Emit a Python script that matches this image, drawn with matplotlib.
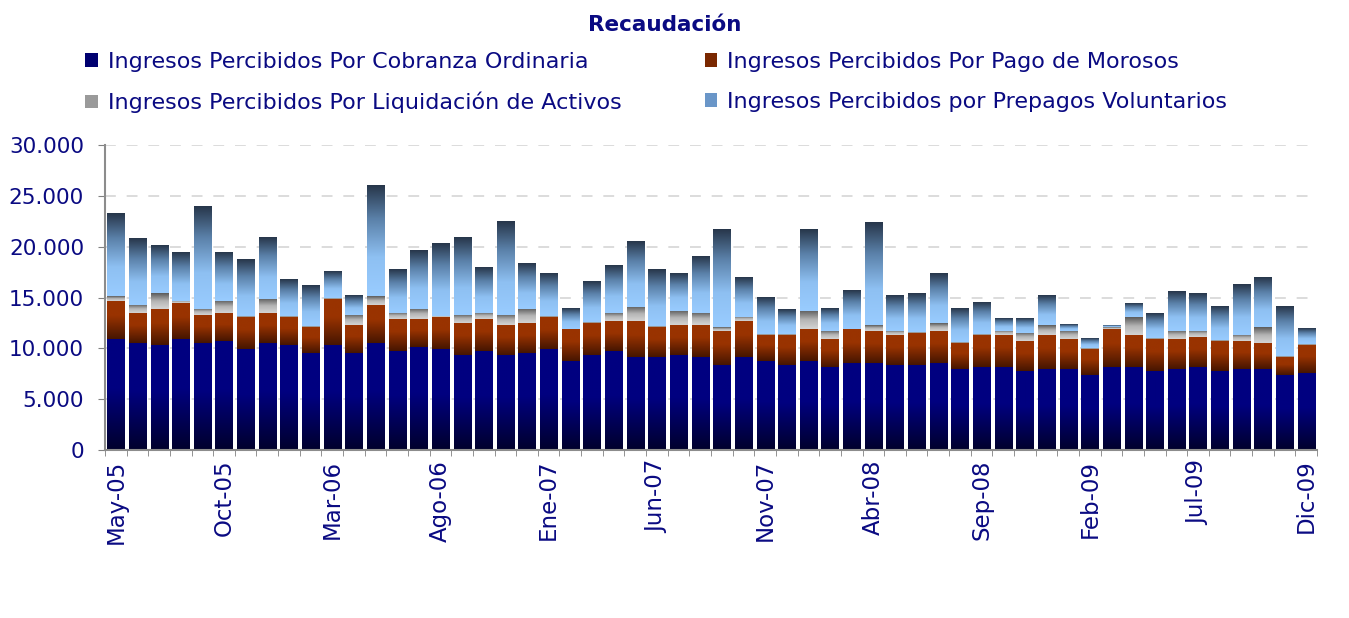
import numpy as np
import matplotlib
matplotlib.use('Agg')
import matplotlib.pyplot as plt
from matplotlib.colors import LinearSegmentedColormap
from matplotlib.patches import Patch
from matplotlib.ticker import FuncFormatter

# meses May-05 .. Dic-09
abrev = ['Ene', 'Feb', 'Mar', 'Abr', 'May', 'Jun', 'Jul', 'Ago', 'Sep', 'Oct', 'Nov', 'Dic']
meses = [f'{m}-{a:02d}' for a in range(5, 10) for i, m in enumerate(abrev) if not (a == 5 and i < 4)]

cobranza = [10950, 10550, 10350, 10950, 10550, 10750, 9950, 10550, 10350, 9550,
            10350, 9550, 10550, 9750, 10150, 9950, 9350, 9750, 9350, 9550,
            9950, 8750, 9350, 9750, 9150, 9150, 9350, 9150, 8400, 9150,
            8750, 8400, 8750, 8200, 8600, 8600, 8400, 8400, 8600, 8000,
            8200, 8200, 7800, 8000, 8000, 7400, 8200, 8200, 7800, 8000,
            8200, 7800, 8000, 8000, 7400, 7600]
morosos = [3750, 2950, 3550, 3550, 2750, 2750, 3150, 2950, 2750, 2550,
           4550, 2750, 3750, 3150, 2750, 3150, 3150, 3150, 2950, 2950,
           3150, 3150, 3150, 2950, 3550, 2950, 2950, 3150, 3350, 3550,
           2600, 2950, 3150, 2750, 3300, 3150, 2950, 3150, 3150, 2550,
           3150, 3150, 2950, 3350, 2950, 2550, 3750, 3150, 3150, 2950,
           2950, 2950, 2750, 2550, 1750, 2750]
liquidacion = [400, 800, 1550, 200, 600, 1200, 50, 1400, 50, 50,
               50, 1000, 800, 600, 1000, 100, 800, 600, 1000, 1400,
               50, 50, 50, 800, 1400, 50, 1400, 1200, 350, 400,
               50, 50, 1800, 800, 50, 550, 400, 50, 750, 50,
               50, 400, 800, 950, 800, 50, 150, 1750, 50, 800,
               600, 50, 600, 1550, 50, 50]
prepagos = [8150, 6500, 4650, 4800, 10050, 4800, 5600, 6000, 3600, 4000,
            2600, 1900, 10850, 4250, 5800, 7100, 7600, 4450, 9200, 4450,
            4200, 2050, 4000, 4650, 6400, 5600, 3650, 5600, 9600, 3850,
            3600, 2400, 8000, 2250, 3800, 10100, 3450, 3800, 4850, 3250,
            3050, 1250, 1450, 2900, 650, 900, 150, 1300, 2450, 3850,
            3650, 3250, 5000, 4850, 4850, 1500]

series = [
    ('Ingresos Percibidos Por Cobranza Ordinaria', cobranza,
     [(0, '#00002c'), (0.55, '#000080'), (1, '#000080')], '#000070'),
    ('Ingresos Percibidos Por Pago de Morosos', morosos,
     [(0, '#461500'), (0.6, '#993300'), (1, '#993300')], '#7a2800'),
    ('Ingresos Percibidos Por Liquidación de Activos', liquidacion,
     [(0, '#d4d4d4'), (0.5, '#b4b4b4'), (1, '#5a5a5a')], '#9a9a9a'),
    ('Ingresos Percibidos por Prepagos Voluntarios', prepagos,
     [(0, '#99ccff'), (0.35, '#8ec0f2'), (0.7, '#5a80a8'), (1, '#27364a')], '#6a96c8'),
]

navy = '#0a0a82'
plt.rcParams['font.family'] = ['DejaVu Sans']

fig = plt.figure(figsize=(13.49, 6.18), dpi=100)
ax = fig.add_axes([0.0778, 0.2718, 0.8985, 0.4936])

x = np.arange(len(meses))
grad = np.linspace(0, 1, 256).reshape(-1, 1)
bottom = np.zeros(len(meses))
handles = []
for nombre, vals, stops, mid in series:
    vals = np.array(vals, dtype=float)
    cmap = LinearSegmentedColormap.from_list(nombre, stops)
    bars = ax.bar(x, vals, bottom=bottom, width=0.79, facecolor='none', edgecolor='none', zorder=2)
    for p in bars:
        h = p.get_height()
        if h <= 0:
            continue
        x0, y0, w = p.get_x(), p.get_y(), p.get_width()
        ax.imshow(grad, extent=[x0, x0 + w, y0, y0 + h], origin='lower', aspect='auto',
                  cmap=cmap, interpolation='bilinear', zorder=2)
    bottom += vals
    handles.append(Patch(facecolor=mid, edgecolor='none', label=nombre))

ax.set_xlim(-0.5, len(meses) - 0.5)
ax.set_ylim(0, 30000)
ax.set_yticks(range(0, 30001, 5000))
ax.yaxis.set_major_formatter(FuncFormatter(lambda v, _: f'{int(v):,}'.replace(',', '.')))
ax.set_xticks(x[::5])
ax.set_xticklabels(meses[::5], rotation=90)
ax.set_xticks(np.arange(-0.5, len(meses), 1), minor=True)
ax.tick_params(axis='x', which='major', length=0, pad=7, labelsize=16.5, labelcolor=navy)
ax.tick_params(axis='x', which='minor', length=4, color='#808080', direction='out')
ax.tick_params(axis='y', length=5, color='#808080', labelsize=15.5, labelcolor=navy, pad=10)

ax.set_axisbelow(True)
ax.yaxis.grid(True, linestyle=(0, (6, 6)), color='#d9d9d9', linewidth=1.3)
for s in ['top', 'right']:
    ax.spines[s].set_visible(False)
ax.spines['left'].set_color('#8c8c8c')
ax.spines['left'].set_linewidth(1.5)
ax.spines['bottom'].set_color('#8c8c8c')
ax.spines['bottom'].set_linewidth(1.5)

fig.text(0.493, 0.959, 'Recaudación', ha='center', va='center', fontsize=15.5,
         fontweight='bold', color=navy)

orden = [handles[0], handles[2], handles[1], handles[3]]
fig.legend(handles=orden, labels=[h.get_label() for h in orden], ncols=2,
           loc='upper left', bbox_to_anchor=(0.055, 0.934), frameon=False,
           fontsize=16, handlelength=0.55, handleheight=0.55, handletextpad=0.45,
           columnspacing=3.75, labelspacing=0.9, borderpad=0, labelcolor=navy)

fig.savefig('out.png', dpi=100)
